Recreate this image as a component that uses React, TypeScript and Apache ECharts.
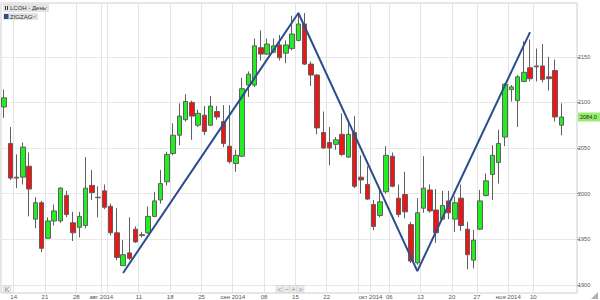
import React, { useEffect, useRef } from 'react';
import * as echarts from 'echarts';

// Trading days (category axis)
const dates = [
  '2014-07-10', '2014-07-11', '2014-07-14', '2014-07-15', '2014-07-16', '2014-07-17', '2014-07-18',
  '2014-07-21', '2014-07-22', '2014-07-23', '2014-07-24', '2014-07-25',
  '2014-07-28', '2014-07-29', '2014-07-30', '2014-07-31', '2014-08-01',
  '2014-08-04', '2014-08-05', '2014-08-06', '2014-08-07', '2014-08-08',
  '2014-08-11', '2014-08-12', '2014-08-13', '2014-08-14', '2014-08-15',
  '2014-08-18', '2014-08-19', '2014-08-20', '2014-08-21', '2014-08-22',
  '2014-08-25', '2014-08-26', '2014-08-27', '2014-08-28', '2014-08-29',
  '2014-09-01', '2014-09-02', '2014-09-03', '2014-09-04', '2014-09-05',
  '2014-09-08', '2014-09-09', '2014-09-10', '2014-09-11', '2014-09-12',
  '2014-09-15', '2014-09-16', '2014-09-17', '2014-09-18', '2014-09-19',
  '2014-09-22', '2014-09-23', '2014-09-24', '2014-09-25', '2014-09-26',
  '2014-09-29', '2014-09-30', '2014-10-01', '2014-10-02', '2014-10-03',
  '2014-10-06', '2014-10-07', '2014-10-08', '2014-10-09', '2014-10-10',
  '2014-10-13', '2014-10-14', '2014-10-15', '2014-10-16', '2014-10-17',
  '2014-10-20', '2014-10-21', '2014-10-22', '2014-10-23',
  '2014-10-27', '2014-10-28', '2014-10-29', '2014-10-30', '2014-10-31',
  '2014-11-03', '2014-11-05', '2014-11-06', '2014-11-07',
  '2014-11-10', '2014-11-11', '2014-11-12', '2014-11-13', '2014-11-14',
];
const padDates = ['2014-11-17', '2014-11-18'];

const openP = [
  2095, 2055, 2018, 2018, 2030, 1972, 1990, 1951, 1970, 1970,
  1998, 1968, 1963, 1965, 2009, 1996, 2003, 1986, 1957, 1921,
  1935, 1961, 1955, 1957, 1975, 1993, 2013, 2044, 2064, 2081,
  2100, 2075, 2086, 2075, 2090, 2079, 2052, 2033, 2041, 2119,
  2119, 2160, 2153, 2155, 2163, 2154, 2159, 2168, 2186, 2142,
  2130, 2067, 2056, 2054, 2065, 2040, 2067, 2018, 2010, 1988,
  1976, 2002, 2041, 1995, 1999, 1966, 1924, 1984, 2004, 1982,
  1972, 1992, 1972, 1995, 1961, 1927, 1961, 1998, 2021, 2034,
  2062, 2114, 2102, 2123, 2138, 2140, 2140, 2128, 2135, 2075,
];
const closeP = [
  2105, 2017, 2017, 2051, 2005, 1990, 1940, 1970, 1981, 2006,
  1977, 1957, 1975, 2006, 2001, 1995.5, 1985, 1957, 1930, 1933,
  1929, 1947, 1954, 1975, 1992, 2011, 2043, 2064, 2085, 2101,
  2085, 2088, 2068, 2096, 2084, 2055, 2035, 2042, 2115, 2131,
  2162, 2153, 2164, 2162, 2149, 2163, 2175, 2186, 2142, 2130,
  2072, 2050, 2050, 2059, 2043, 2065, 2008, 2015, 1994, 1964,
  1991, 2042, 2008, 1977, 1980, 1926, 1979, 2006, 1981, 1957,
  1987, 1979, 1990, 1965, 1933, 1949, 1992, 2014, 2042, 2055,
  2120, 2117, 2128, 2133, 2126, 2139, 2125, 2126, 2084, 2084,
];
const lowP = [
  2083, 2015, 2006, 2010, 1975, 1962, 1936, 1951, 1965, 1968,
  1974, 1948, 1952, 1962, 1993, 1974, 1983, 1954, 1927, 1921,
  1927, 1946, 1952, 1956, 1974, 1989, 2009, 2042, 2053, 2079,
  2059, 2073, 2064, 2074, 2081, 2051, 2033, 2024, 2040, 2106,
  2117, 2146, 2152, 2154, 2146, 2143, 2157, 2167, 2141, 2118,
  2065, 2049, 2031, 2048, 2041, 2039, 2006, 2000, 1993, 1960,
  1974, 2000, 2007, 1974, 1973, 1924, 1922, 1979, 1979, 1946,
  1971, 1972, 1958, 1959, 1917, 1918, 1960, 1997, 1993, 2011,
  2052, 2101, 2073, 2122, 2123, 2123, 2122, 2113, 2079, 2064,
];
const highP = [
  2114, 2073, 2043, 2056, 2045, 1996, 1992, 1974, 1988, 2007,
  2003, 1980, 1980, 2040, 2026, 2008, 2010, 1989, 1984, 1949,
  1974, 1964, 1958, 1986, 2002, 2026, 2046, 2077, 2099, 2109,
  2102, 2092, 2096, 2107, 2096, 2097, 2097, 2048, 2127, 2134,
  2170, 2179, 2170, 2170, 2174, 2168, 2195, 2197, 2198, 2145,
  2131, 2090, 2073, 2062, 2088, 2081, 2085, 2042, 2030, 1993,
  2004, 2052, 2045, 2010, 2024, 1969, 1995, 2041, 2010, 2005,
  2003, 2003, 1997, 2010, 1969, 1960, 2004, 2022, 2053, 2070,
  2121, 2119, 2130, 2167, 2169, 2159, 2164, 2150, 2147, 2099,
];

// ZigZag pivot points
const zigzagIdx = [19, 47, 66, 84];
const zigzagVal = [1913, 2198, 1915, 2177];

// X-axis grid dates and their labels
const gridDates = [
  '2014-07-14', '2014-07-21', '2014-07-28', '2014-08-01', '2014-08-04', '2014-08-11',
  '2014-08-18', '2014-08-25', '2014-09-01', '2014-09-08', '2014-09-15', '2014-09-22',
  '2014-09-29', '2014-10-01', '2014-10-06', '2014-10-13', '2014-10-20', '2014-10-27',
  '2014-11-03', '2014-11-10',
];
const gridLabels = [
  '14', '21', '28', 'авг 2014', '', '11',
  '18', '25', 'сен 2014', '08', '15', '22',
  '', 'окт 2014', '06', '13', '20', '27',
  'ноя 2014', '10',
];

const priceTicks = [1900, 1950, 2000, 2050, 2100, 2150];
const yMin = 1891;
const yMax = 2209;
const lastPrice = 2084.0;
const lastPriceText = '2084,0';

export default function App() {
  const ref = useRef<HTMLDivElement>(null);

  useEffect(() => {
    if (!ref.current) return;
    const chart = echarts.init(ref.current, undefined, { renderer: 'svg' });
    const categories = dates.concat(padDates);
    const candleData = dates.map((_, i) => [openP[i], closeP[i], lowP[i], highP[i]]);
    const zigzagData = zigzagIdx.map((idx, k) => [dates[idx], zigzagVal[k]]);
    const labelMap: Record<string, string> = {};
    gridDates.forEach((d, i) => { labelMap[d] = gridLabels[i]; });

    const chevron = (x: number, y: number) => ({
      type: 'polyline',
      shape: { points: [[x, y], [x + 2, y + 2], [x + 4, y]] },
      style: { stroke: '#9a9a9a', lineWidth: 1, fill: null },
    });

    const btn = (x: number, w: number, label: string) => ({
      type: 'group',
      children: [
        { type: 'rect', shape: { x, y: 285.5, width: w, height: 7 }, style: { fill: '#ececec', stroke: '#cfcfcf', lineWidth: 0.5 } },
        { type: 'text', style: { x: x + w / 2, y: 289.2, text: label, fontSize: 7, fill: '#8a8a8a', align: 'center', verticalAlign: 'middle', fontFamily: 'Liberation Sans' } },
      ],
    });

    const baseGraphic: any[] = [
      { type: 'rect', shape: { x: 3, y: 4, width: 46, height: 8 }, style: { fill: '#e3e3e3' } },
      { type: 'rect', shape: { x: 5, y: 6, width: 1, height: 4 }, style: { fill: '#333' } },
      { type: 'rect', shape: { x: 7, y: 6, width: 1, height: 4 }, style: { fill: '#333' } },
      { type: 'text', style: { x: 10, y: 8.2, text: 'LCOH - День', fontSize: 6, fill: '#333', verticalAlign: 'middle', fontFamily: 'Liberation Sans' } },
      chevron(43, 7),
      { type: 'rect', shape: { x: 3, y: 13, width: 35, height: 7 }, style: { fill: '#e3e3e3' } },
      { type: 'rect', shape: { x: 4, y: 14, width: 4.5, height: 5 }, style: { fill: '#2c4d8e' } },
      { type: 'text', style: { x: 10, y: 16.7, text: 'ZIGZAG', fontSize: 6, fill: '#333', verticalAlign: 'middle', fontFamily: 'Liberation Sans' } },
      chevron(32, 15.5),
      btn(3, 8, 'K'),
      btn(276, 7, '<'),
      btn(283, 7, '−'),
      btn(290, 7, '+'),
      btn(297, 7, '>'),
      { type: 'polygon', shape: { points: [[598, 292], [598, 299], [591, 299]] }, style: { fill: '#b0b0b0' } },
    ];

    chart.setOption({
      animation: false,
      backgroundColor: '#ffffff',
      textStyle: { fontFamily: 'Liberation Sans' },
      grid: {
        left: 1, right: 23, top: 3, bottom: 7,
        show: true, borderColor: '#cfcfcf', borderWidth: 1, backgroundColor: 'transparent',
      },
      xAxis: {
        type: 'category',
        data: categories,
        boundaryGap: true,
        axisLine: { show: false },
        axisTick: { show: false },
        axisLabel: {
          interval: (_i: number, v: string) => labelMap[v] !== undefined && labelMap[v] !== '',
          formatter: (v: string) => labelMap[v] || '',
          fontSize: 6,
          color: '#555555',
          margin: 1,
          padding: [0, 6, 0, 0],
        },
        splitLine: {
          show: true,
          interval: (_i: number, v: string) => labelMap[v] !== undefined,
          lineStyle: { color: '#e4e4e4', width: 1 },
        },
      },
      yAxis: {
        type: 'value',
        position: 'right',
        min: yMin,
        max: yMax,
        axisLine: { show: false },
        axisTick: { show: true, length: 3, lineStyle: { color: '#9a9a9a' }, customValues: priceTicks },
        axisLabel: {
          fontSize: 5.5, color: '#555555', margin: 1, customValues: priceTicks,
          formatter: (v: number) => String(v),
        },
        splitLine: { show: true, lineStyle: { color: '#e8e8e8', width: 1 } },
      },
      series: [
        {
          type: 'candlestick',
          data: candleData,
          barWidth: 5,
          itemStyle: {
            color: '#22ee22',
            color0: '#f01414',
            borderColor: '#5f5f5f',
            borderColor0: '#5f5f5f',
            borderWidth: 1,
          },
        },
        {
          type: 'line',
          data: zigzagData,
          symbol: 'none',
          lineStyle: { color: '#2c4d8e', width: 2 },
          z: 5,
        },
      ],
      graphic: baseGraphic,
    });

    // Last-price tag placed through the y axis scale
    const py = chart.convertToPixel({ yAxisIndex: 0 }, lastPrice) as number;
    chart.setOption({
      graphic: baseGraphic.concat([
        { type: 'rect', shape: { x: 578, y: py - 4.5, width: 22, height: 9 }, style: { fill: '#98ec70' } },
        {
          type: 'text',
          style: {
            x: 580, y: py, text: lastPriceText, fontSize: 5.5, fill: '#222222',
            verticalAlign: 'middle', fontFamily: 'Liberation Sans',
          },
        },
      ]),
    }, { replaceMerge: ['graphic'] });

    return () => chart.dispose();
  }, []);

  return (
    <div
      ref={ref}
      style={{ position: 'fixed', left: 0, top: 0, width: 600, height: 300 }}
    />
  );
}
